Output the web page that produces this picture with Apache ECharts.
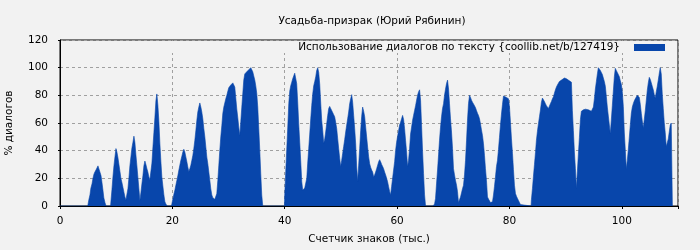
<!DOCTYPE html>
<html>
<head>
<meta charset="utf-8">
<script src="https://cdn.jsdelivr.net/npm/echarts@6/dist/echarts.min.js"></script>
<style>html,body{margin:0;padding:0;background:#f2f2f2;}#c{width:700px;height:250px;}</style>
</head>
<body>
<div id="c"></div>
<script>
const chartTitle = 'Усадьба-призрак (Юрий Рябинин)';
const seriesName = 'Использование диалогов по тексту {coollib.net/b/127419}';
const xAxisName = 'Счетчик знаков (тыс.)';
const yAxisName = '% диалогов';
const xTicks = [0, 20, 40, 60, 80, 100];
const yTicks = [0, 20, 40, 60, 80, 100, 120];

// [thousand chars, % dialogs]
const dialogPoints = [
[0,0],[4.95,0],[5.0,1.5],[5.16,5],[5.33,8],[5.5,13],[5.7,16],[5.87,20],[6.04,23],[6.2,24.5],[6.4,26],[6.58,27],[6.76,29],[6.93,30],[7.1,28],[7.3,22],[7.47,17],[7.64,11.5],[7.8,6],[8.0,2.5],[8.2,0],
[9.0,0],[9.07,3.5],[9.25,12],[9.42,21],[9.6,29],[9.78,35.5],[9.96,41.5],[10.13,39],[10.31,35],[10.49,30],[10.67,25],[10.84,20],[11.02,17],[11.2,13.5],[11.38,10],[11.56,6.5],[11.73,4.3],[11.9,3.4],
[12.09,12.5],[12.27,20.5],[12.44,29],[12.62,35.5],[12.8,42],[12.98,46],[13.16,50.5],[13.33,46],[13.51,37],[13.69,29],[13.87,20.5],[14.04,12.5],[14.22,4],
[14.4,9.5],[14.58,16],[14.76,22],[14.93,29],[15.11,32.5],[15.29,30],[15.47,27],[15.64,24.5],[15.82,21],[16.0,19],[16.18,20],[16.36,31],[16.53,42],[16.71,53],[16.89,64],[17.07,76],[17.24,81],[17.42,73],[17.6,61],[17.78,45],[17.96,32],[18.13,21],[18.31,14.5],[18.49,8],[18.67,3],[18.84,1.5],[19.08,0],
[19.85,0],[19.91,1.5],[20.09,5],[20.27,8.5],[20.45,11.5],[20.62,15],[20.8,18.5],[20.98,22],[21.16,26],[21.33,29.5],[21.51,33],[21.69,36],[21.87,39],[22.04,41],[22.22,39],[22.4,35.5],[22.58,32],[22.76,28],[22.93,25],[23.11,27],[23.29,29.5],[23.47,33],[23.64,36.5],[23.82,41.5],[24.0,47.5],[24.18,54.5],[24.36,62],[24.53,68],[24.71,71.5],[24.89,74.5],[25.07,71.5],[25.24,68],[25.42,63],[25.6,56],[25.78,50],[25.96,42.5],[26.13,35.5],[26.31,30.5],[26.49,24.5],[26.67,18.5],[26.84,12.5],[27.02,8],[27.2,6],[27.38,5.3],[27.56,4.8],[27.73,4.3],[27.91,9],[28.09,18.5],[28.27,29.5],[28.44,40],[28.62,50],[28.8,58],[28.98,67],[29.16,71.5],[29.33,74.5],[29.51,77.5],[29.69,80],[29.87,83],[30.04,85.5],[30.22,86.5],[30.4,87.5],[30.58,88],[30.76,89],[30.93,88.5],[31.11,86],[31.29,78],[31.47,70],[31.64,64],[31.82,57],[32.0,51],[32.18,61],[32.36,71.5],[32.53,81],[32.71,91],[32.89,95.5],[33.07,96.5],[33.24,97],[33.42,98],[33.6,98.5],[33.78,99.5],[33.96,100],[34.13,99],[34.31,97],[34.49,94],[34.67,91],[34.84,87],[35.02,81.5],[35.2,71.5],[35.38,56],[35.56,40],[35.73,23.5],[35.91,8],[36.09,0],
[39.95,0],[40.0,8],[40.18,25],[40.36,41],[40.54,57],[40.72,74],[40.89,83],[41.07,87],[41.25,89.5],[41.42,92],[41.6,94],[41.78,96],[41.9,96.5],[42.13,88.5],[42.31,75],[42.49,59.5],[42.67,46],[42.84,33],[43.03,17.5],[43.2,11.5],[43.38,12],[43.56,13],[43.74,14],[43.92,20],[44.09,31],[44.27,41.5],[44.45,52],[44.63,63],[44.8,72.5],[44.98,81],[45.16,87],[45.34,90],[45.52,93.5],[45.69,98],[45.87,100],[46.05,96.5],[46.23,88],[46.4,75],[46.58,62],[46.76,54.5],[46.94,45.5],[47.12,48.5],[47.29,53.5],[47.47,59.5],[47.65,65.5],[47.83,70.5],[48.0,72],[48.18,70.5],[48.36,69],[48.54,68],[48.71,66],[48.89,64.5],[49.07,60.5],[49.25,56],[49.43,48.5],[49.6,41.5],[49.78,34.5],[49.96,28.5],[50.14,33],[50.31,38],[50.49,43],[50.67,48],[50.85,53.5],[51.03,58.5],[51.2,63],[51.38,68],[51.56,74],[51.74,77.5],[51.92,80.5],[52.09,75],[52.27,65.5],[52.45,56],[52.63,45],[52.8,29],[52.98,18],[53.16,29.5],[53.34,41.5],[53.52,54.5],[53.69,64.5],[53.87,71.5],[54.05,68.5],[54.23,64.5],[54.41,57],[54.58,50],[54.76,42.5],[54.94,35.5],[55.12,30.5],[55.29,28],[55.47,26],[55.65,24.5],[55.83,21],[56.0,22.5],[56.18,24.5],[56.36,27],[56.54,29.5],[56.72,32],[56.89,33.5],[57.07,32],[57.25,30],[57.43,28.5],[57.6,27],[57.78,24.5],[57.96,22.5],[58.14,20],[58.31,17.5],[58.49,14],[58.67,10.5],
[58.84,8],[59.02,14],[59.2,20],[59.38,26],[59.56,32],[59.73,40],[59.91,46],[60.09,50.5],[60.27,54.5],[60.45,58.5],[60.62,60.5],[60.8,63],[60.98,65.5],[61.16,62.5],[61.33,56],[61.51,47.5],[61.69,39],[61.87,28.5],[62.04,33],[62.22,41.5],[62.4,52],[62.58,57],[62.76,62],[62.93,65.5],[63.11,69],[63.29,72.5],[63.47,76.5],[63.64,80],[63.82,82.5],[64.0,84],[64.18,76.5],[64.36,58],[64.53,40],[64.71,23.5],[64.89,8],[65.07,0],
[66.4,0],[66.49,1],[66.67,1.5],[66.84,5.5],[67.02,16],[67.2,26],[67.38,37],[67.55,47.5],[67.73,57],[67.91,64.5],[68.09,70.5],[68.27,74],[68.44,80],[68.62,84.5],[68.8,88.5],[68.98,91],[69.16,84.5],[69.33,74],[69.51,63],[69.69,53.5],[69.87,41.5],[70.04,27],[70.22,22.5],[70.4,18.5],[70.58,15],[70.75,10.5],[70.93,2.5],[71.11,4.5],[71.29,6.5],[71.47,9.5],[71.64,12.5],[71.82,15],[72.0,22.5],[72.18,33],[72.36,47.5],[72.53,62],[72.71,74],[72.89,80],[73.07,78.5],[73.24,76.5],[73.42,75],[73.6,74],[73.78,72.5],[73.96,71],[74.13,69],[74.31,67],[74.49,65.5],[74.67,63],[74.84,59.5],[75.02,55],[75.2,51],[75.38,45],[75.56,36.5],[75.73,27],[75.91,18.5],[76.09,6.5],[76.27,5],[76.44,4],[76.62,2.5],[76.8,1.5],[76.98,3],[77.16,8],[77.33,14],[77.51,21],[77.69,28.5],[77.87,33],
[78.05,41],[78.22,49.5],[78.4,58.5],[78.58,66.5],[78.76,73.5],[78.94,79.5],[79.11,80],[79.29,79.5],[79.47,78.5],[79.65,78],[79.83,77.5],[80.0,72],[80.18,60.5],[80.36,48.5],[80.54,38],[80.71,26.5],[80.89,15],[81.07,9],[81.25,7],[81.43,5.5],[81.6,4],[81.78,2.5],[81.96,1],[82.14,0],
[83.85,0],[83.91,4.5],[84.09,12.5],[84.27,21.5],[84.45,30],[84.63,38.5],[84.8,47.5],[84.98,54],[85.16,59.5],[85.34,64.5],[85.52,69.5],[85.69,75],[85.87,78],[86.05,77],[86.23,75.5],[86.4,74],[86.58,72.5],[86.76,71.5],[86.94,70.5],[87.12,71.5],[87.29,74],[87.47,75.5],[87.65,77.5],[87.83,79],[88.0,81.5],[88.18,84],[88.36,86],[88.54,87.5],[88.72,88.5],[88.89,90],[89.07,90.5],[89.25,91],[89.43,91.5],[89.6,92],[89.78,92.5],[89.96,93],[90.14,92],[90.31,91.5],[90.49,91],[90.67,90.5],[90.85,90],[91.03,89.5],[91.2,69],[91.38,54.5],[91.56,39],[91.74,27],[91.91,13],[92.09,25],[92.27,37.5],[92.45,49.5],[92.63,62.5],[92.8,68.5],[92.98,69],[93.16,69.5],[93.34,69.5],[93.52,70],[93.69,70.5],[93.87,70],[94.05,69.5],[94.22,69],[94.4,69],[94.58,68.5],[94.75,68],[94.94,71.5],[95.12,77.5],[95.29,84.5],[95.47,90],[95.65,95.5],[95.82,100],[96.0,99],[96.18,98],[96.36,96.5],[96.54,95],[96.71,92.5],[96.89,90],[97.07,86.5],[97.25,79],[97.42,71.5],[97.6,65],[97.78,58.5],[97.95,52.5],[98.13,62],[98.31,72.5],[98.49,83],[98.67,93.5],[98.84,99.5],[99.02,98],[99.2,96.5],[99.38,95],[99.56,93.5],[99.73,90.5],[99.91,88],[100.09,82.5],[100.27,72],[100.44,53.5],[100.62,40.5],[100.8,27],[100.98,33],[101.16,41],[101.33,49.5],[101.51,58.5],[101.69,67],[101.87,71.5],[102.04,74],[102.22,76],[102.4,77.5],[102.58,78.5],[102.75,80],[102.93,80.5],[103.11,78.5],[103.29,73.5],[103.47,67],[103.64,61.5],[103.82,56.5],[104.0,62.5],[104.18,69],[104.36,76.5],[104.53,83.5],[104.71,89],[104.89,93],[105.07,91.5],[105.25,89],[105.42,86.5],[105.6,84],[105.78,80.5],[105.95,78],[106.13,82.5],[106.31,86.5],[106.49,91],[106.67,96],[106.84,100],[107.02,95.5],[107.2,81],[107.38,70.5],[107.55,60.5],[107.73,53],[107.91,43],[108.09,44],[108.27,48.5],[108.44,53.5],[108.62,58.5],[108.8,60],[108.98,60],[109.0,0]
];

const chart = echarts.init(document.getElementById('c'), null, {renderer: 'canvas'});
const FONT = 'DejaVu Sans';
const FS = 10.5;
chart.setOption({
  backgroundColor: '#f2f2f2',
  animation: false,
  textStyle: {fontFamily: FONT, color: '#000'},
  title: {
    text: chartTitle, left: 367, top: 11, textAlign: 'center',
    textStyle: {fontFamily: FONT, fontSize: FS, fontWeight: 'normal', color: '#000'}
  },
  legend: {
    show: true, right: 35, top: 41, align: 'right', itemWidth: 31, itemHeight: 7, itemGap: 0,
    icon: 'rect', padding: [1, 0, 1, 0],
    textStyle: {fontFamily: FONT, fontSize: FS, color: '#000', padding: [0, 9, 0, 0]},
    data: [{name: seriesName, icon: 'rect'}]
  },
  grid: {left: 60, right: 22, top: 40, bottom: 44, outerBoundsMode: 'none', containLabel: false,
    show: true, borderColor: '#000', borderWidth: 1, backgroundColor: 'transparent'},
  xAxis: {
    type: 'value', min: 0, max: 110, interval: 20,
    name: xAxisName, nameLocation: 'middle', nameGap: 28,
    nameTextStyle: {fontFamily: FONT, fontSize: FS, color: '#000'},
    axisLine: {show: true, lineStyle: {color: '#000', width: 1}},
    axisTick: {show: true, length: 3, lineStyle: {color: '#000'}},
    axisLabel: {fontFamily: FONT, fontSize: FS, color: '#000', margin: 10,
      formatter: v => (xTicks.indexOf(v) >= 0 ? String(v) : '')},
    splitLine: {show: true, lineStyle: {color: '#a0a0a0', type: [3, 3], width: 1}}
  },
  yAxis: {
    type: 'value', min: 0, max: 120, interval: 20,
    name: yAxisName, nameLocation: 'middle', nameGap: 45, nameRotate: 90,
    nameTextStyle: {fontFamily: FONT, fontSize: FS, color: '#000'},
    axisLine: {show: true, lineStyle: {color: '#000', width: 1}},
    axisTick: {show: true, length: 2, lineStyle: {color: '#000'}},
    axisLabel: {fontFamily: FONT, fontSize: FS, color: '#000', margin: 12,
      formatter: v => (yTicks.indexOf(v) >= 0 ? String(v) : '')},
    splitLine: {show: true, lineStyle: {color: '#a0a0a0', type: [3, 3], width: 1}}
  },
  graphic: [{
    type: 'rect', z: 1, silent: true,
    shape: {x: 61, y: 41, width: 616, height: 12},
    style: {fill: '#f2f2f2'}
  }],
  series: [{
    name: seriesName, type: 'line', data: dialogPoints,
    showSymbol: false, symbol: 'none', smooth: false,
    itemStyle: {color: '#0846ab'},
    lineStyle: {width: 0.6, color: '#0846ab'},
    areaStyle: {color: '#0846ab', opacity: 1},
    z: 3
  }]
});
</script>
</body>
</html>
